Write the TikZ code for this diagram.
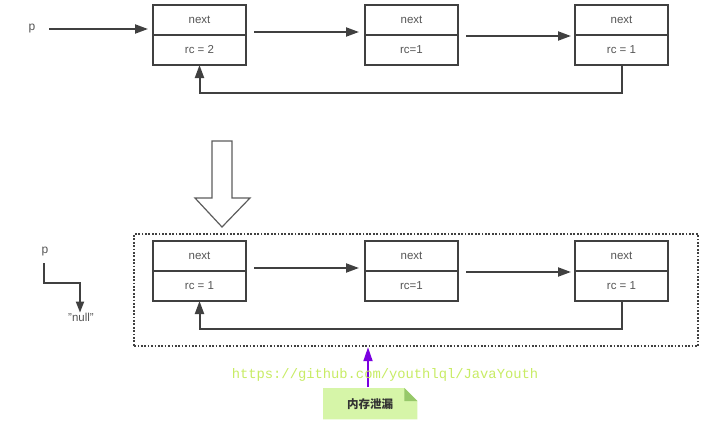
\documentclass[tikz,border=0pt]{standalone}
\usepackage{fontspec}
\setmainfont{Liberation Sans}
\newfontfamily\urlfont{Liberation Mono}
\newfontfamily\cjk{Noto Sans CJK SC}
\usetikzlibrary{arrows.meta,calc}
\definecolor{lc}{RGB}{64,64,64}
\definecolor{tc}{RGB}{85,85,85}
\definecolor{urlc}{RGB}{200,236,100}
\definecolor{notec}{RGB}{214,245,168}
\definecolor{foldc}{RGB}{150,200,105}
\definecolor{purp}{RGB}{122,0,224}
\begin{document}
\begin{tikzpicture}[x=1pt,y=-1pt,
  half/.style={draw=lc, line width=1.8pt, minimum width=93pt, minimum height=30pt,
    inner sep=0pt, outer sep=0pt, anchor=north west, text=tc, font=\fontsize{11.5}{13}\selectfont},
  arr/.style={draw=lc, line width=2pt, -{Triangle[length=13pt,width=9pt]}},
  lbl/.style={text=tc, font=\fontsize{12}{14}\selectfont, inner sep=0pt},
  dotbox/.style={draw=lc, line width=2.2pt, dash pattern=on 1.7pt off 1.7pt,
    minimum width=564pt, minimum height=112pt, anchor=north west, inner sep=0pt},
  bigarrow/.style={draw=lc!85, line width=1.2pt, fill=white, line join=miter}
]
\useasboundingbox[fill=white] (0,0) rectangle (719,444);

% ---- top row ----
\node[half] (t1n) at (153,5) {next};
\node[half] (t1r) at (153,35) {rc = 2};
\node[half] (t2n) at (365,5) {next};
\node[half] (t2r) at (365,35) {rc=1};
\node[half] (t3n) at (575,5) {next};
\node[half] (t3r) at (575,35) {rc = 1};

\node[lbl] (p1) at (32,29) {p};
\coordinate (p1s) at (49,29);
\draw[arr, shorten >=5pt] (p1s) -- (p1s -| t1n.west);

\draw[arr] ($(t1n.south east)+(8,-3)$) -- ($(t2n.south west)+(-6,-3)$);
\draw[arr] ($(t2n.south east)+(8,1)$) -- ($(t3n.south west)+(-4,1)$);
\draw[arr] (t3r.south) -- ++(0,28) -| (t1r.south);

% ---- big hollow arrow ----
\draw[bigarrow] (212,141) -- (232,141) -- (232,198) -- (250,198) -- (222,227)
  -- (195,198) -- (212,198) -- cycle;

% ---- bottom row ----
\node[dotbox] (mem) at (133,233) {};
\node[half] (b1n) at (153,241) {next};
\node[half] (b1r) at (153,271) {rc = 1};
\node[half] (b2n) at (365,241) {next};
\node[half] (b2r) at (365,271) {rc=1};
\node[half] (b3n) at (575,241) {next};
\node[half] (b3r) at (575,271) {rc = 1};

\draw[arr] ($(b1n.south east)+(8,-3)$) -- ($(b2n.south west)+(-6,-3)$);
\draw[arr] ($(b2n.south east)+(8,1)$) -- ($(b3n.south west)+(-4,1)$);
\draw[arr] (b3r.south) -- ++(0,28) -| (b1r.south);

\node[lbl] (p2) at (45,252) {p};
\node[lbl, font=\fontsize{11.5}{13}\selectfont] (null) at (81,317) {\symbol{34}null\symbol{34}};
\coordinate (p2a) at (44,263);
\coordinate (nc) at (80,283);
\draw[draw=lc, line width=1.8pt, -{Triangle[length=11pt,width=8pt]}]
  (p2a) |- (nc) -- (nc |- null.north) ;

% ---- note ----
\node[minimum width=94pt, minimum height=31pt, anchor=north west, inner sep=0pt] (note) at (323,388) {};
\fill[notec] (note.north west) -- ($(note.north east)+(-13,0)$) -- ($(note.north east)+(0,13)$)
  -- (note.south east) -- (note.south west) -- cycle;
\fill[foldc] ($(note.north east)+(-13,0)$) -- ($(note.north east)+(0,13)$) -- ($(note.north east)+(-13,13)$) -- cycle;
\node[inner sep=0pt, text=black!80, font=\cjk\bfseries\fontsize{11.5}{13}\selectfont] (notet) at (370,404) {内存泄漏};

\coordinate (pa) at (368,387);
\draw[draw=purp, line width=1.8pt, -{Triangle[length=14pt,width=9pt]}] (pa) -- (pa |- mem.south);

\node[inner sep=0pt, text=urlc, font=\urlfont\fontsize{13.8}{15}\selectfont] (url) at (385,375) {https://github.com/youthlql/JavaYouth};
\end{tikzpicture}
\end{document}
